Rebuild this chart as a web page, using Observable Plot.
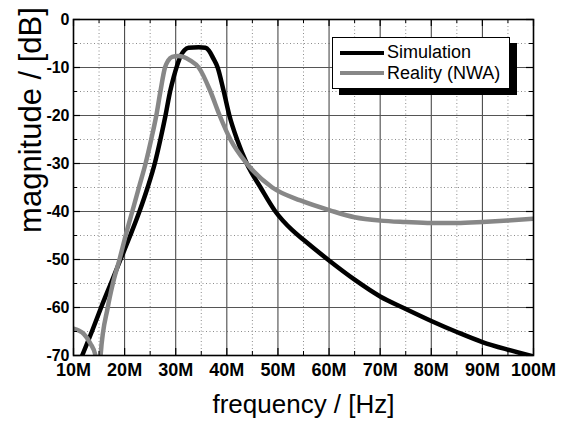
<!DOCTYPE html>
<html>
<head>
<meta charset="utf-8">
<script src="https://cdn.jsdelivr.net/npm/d3@7"></script>
<script src="https://cdn.jsdelivr.net/npm/@observablehq/plot@0.6"></script>
<style>
  body { margin: 0; background: #fff; }
  #wrap { position: relative; width: 563px; height: 421px; font-family: "Liberation Sans", Arial, sans-serif; }
  #legend { position: absolute; left: 332px; top: 37px; width: 178px; height: 52px; box-sizing: border-box;
            border: 1px solid #000; background: #fff; box-shadow: 7px 6px 0 #000; }
  #legend .sw { position: absolute; left: 7px; width: 44px; height: 4px; }
  #legend .lb { position: absolute; left: 54px; font-size: 18px; line-height: 18px; color: #000; white-space: nowrap; }
  #ytitle { position: absolute; left: 30px; top: 120px; font-size: 31px; line-height: 31px; color: #000;
            white-space: nowrap; transform: translate(-50%, -50%) rotate(-90deg); }
</style>
</head>
<body>
<div id="wrap"></div>
<script>
// ---- data ----
const simFreq = [10, 11.7, 13.6, 15.4, 17.3, 19.2, 21.1, 22.9, 24.5, 25.9, 27.0, 28.0, 28.9, 29.6, 30.3, 31.0, 31.7, 32.5, 34.5, 35.8, 36.5, 37.3, 38.2, 39.4, 40.5, 42.0, 43.9, 46.6, 49.5, 52.8, 55, 60, 65, 70, 75, 80, 85, 90, 95, 100];
const simDb   = [-74.5, -70, -65, -60, -55, -50, -45, -40, -35, -30, -25, -20, -15, -12, -9.5, -7.5, -6.4, -5.9, -5.8, -5.9, -6.5, -8, -10, -15, -20, -25, -30, -35, -40, -43.9, -45.9, -50.2, -54.2, -57.7, -60.3, -62.8, -65.1, -67.2, -68.8, -70.2];
const nwaFreq = [10, 11, 12, 13.3, 14.3, 14.8, 15.3, 16.7, 17.7, 19.0, 20.2, 21.5, 22.8, 24.1, 25.2, 26.2, 27.0, 27.9, 28.5, 29.3, 30.5, 31.5, 32.8, 34.5, 36.8, 38.6, 40.7, 43.9, 48.9, 54.4, 60.3, 65, 70, 75, 80, 85, 90, 95, 100];
const nwaDb   = [-64.4, -64.8, -65.5, -67.5, -70, -80, -70, -60, -55, -50, -45, -40, -35, -30, -25, -20, -15, -10, -8.6, -7.8, -7.6, -7.8, -8.5, -10, -15, -20, -25, -30, -35, -37.7, -39.8, -41.2, -41.9, -42.2, -42.4, -42.4, -42.2, -41.9, -41.5];

const seriesNames = ["Simulation", "Reality (NWA)"];
const seriesColors = ["#000000", "#878787"];

const xTicks = [10, 20, 30, 40, 50, 60, 70, 80, 90, 100];
const xTickLabels = ["10M", "20M", "30M", "40M", "50M", "60M", "70M", "80M", "90M", "100M"];
const xMinor = [15, 25, 35, 45, 55, 65, 75, 85, 95];
const yTicks = [0, -10, -20, -30, -40, -50, -60, -70];
const yTickLabels = ["0", "-10", "-20", "-30", "-40", "-50", "-60", "-70"];
const yMinor = [-5, -15, -25, -35, -45, -55, -65];

const xTitle = "frequency / [Hz]";
const yTitle = "magnitude / [dB]";

// ---- build tables ----
const sim = simFreq.map((f, i) => ({f, db: simDb[i]}));
const nwa = nwaFreq.map((f, i) => ({f, db: nwaDb[i]}));

const W = 563, H = 421, mL = 73, mR = 30, mT = 19, mB = 66;
const fw = W - mL - mR, fh = H - mT - mB;
const font = "Liberation Sans, Arial, sans-serif";

const chart = Plot.plot({
  width: W, height: H,
  marginLeft: mL, marginRight: mR, marginTop: mT, marginBottom: mB,
  style: {fontFamily: font, background: "#fff", overflow: "visible"},
  x: {domain: [10, 100]},
  y: {domain: [-70, 0]},
  marks: [
    // minor dotted grid
    Plot.ruleX(xMinor, {stroke: "#8c8c8c", strokeWidth: 1, strokeDasharray: "1,2.5"}),
    Plot.ruleY(yMinor, {stroke: "#8c8c8c", strokeWidth: 1, strokeDasharray: "1,2.5"}),
    // major solid grid
    Plot.ruleX(xTicks, {stroke: "#3a3a3a", strokeWidth: 1}),
    Plot.ruleY(yTicks, {stroke: "#555", strokeWidth: 1}),
    // curves
    Plot.line(sim, {x: "f", y: "db", stroke: seriesColors[0], strokeWidth: 4.5, curve: "monotone-x", clip: true}),
    Plot.line(nwa, {x: "f", y: "db", stroke: seriesColors[1], strokeWidth: 4.5, curve: "monotone-x", clip: true}),
    // inward ticks on all four sides
    Plot.ruleX(xTicks, {stroke: "#000", strokeWidth: 1.2, insetTop: fh - 7}),
    Plot.ruleX(xTicks, {stroke: "#000", strokeWidth: 1.2, insetBottom: fh - 7}),
    Plot.ruleX(xMinor, {stroke: "#000", strokeWidth: 1, insetTop: fh - 4}),
    Plot.ruleX(xMinor, {stroke: "#000", strokeWidth: 1, insetBottom: fh - 4}),
    Plot.ruleY(yTicks, {stroke: "#000", strokeWidth: 1.2, insetRight: fw - 7}),
    Plot.ruleY(yTicks, {stroke: "#000", strokeWidth: 1.2, insetLeft: fw - 7}),
    Plot.ruleY(yMinor, {stroke: "#000", strokeWidth: 1, insetRight: fw - 4}),
    Plot.ruleY(yMinor, {stroke: "#000", strokeWidth: 1, insetLeft: fw - 4}),
    Plot.frame({stroke: "#000", strokeWidth: 1.6}),
    // axes
    Plot.axisX(xTicks, {tickSize: 0, tickPadding: 8, label: null, fontSize: 18, fontWeight: "bold", fill: "#000",
      tickFormat: d => xTickLabels[xTicks.indexOf(d)]}),
    Plot.axisY(yTicks, {tickSize: 0, tickPadding: 4, label: null, fontSize: 16, fontWeight: "bold", fill: "#000",
      tickFormat: d => yTickLabels[yTicks.indexOf(d)]}),
    // x axis title
    Plot.text([xTitle], {frameAnchor: "bottom", dy: 49, fontSize: 26, fill: "#000", lineAnchor: "middle"})
  ]
});

const wrap = document.getElementById("wrap");
wrap.appendChild(chart);

// y axis title (rotated, sits above centre as in the reference)
const yt = document.createElement("div");
yt.id = "ytitle";
yt.textContent = yTitle;
wrap.appendChild(yt);

// legend
const legend = document.createElement("div");
legend.id = "legend";
const swTops = [13, 33], lbTops = [5, 26];
seriesNames.forEach((name, i) => {
  const sw = document.createElement("div");
  sw.className = "sw";
  sw.style.top = swTops[i] + "px";
  sw.style.background = seriesColors[i];
  const lb = document.createElement("div");
  lb.className = "lb";
  lb.style.top = lbTops[i] + "px";
  lb.textContent = name;
  legend.appendChild(sw);
  legend.appendChild(lb);
});
wrap.appendChild(legend);
</script>
</body>
</html>
